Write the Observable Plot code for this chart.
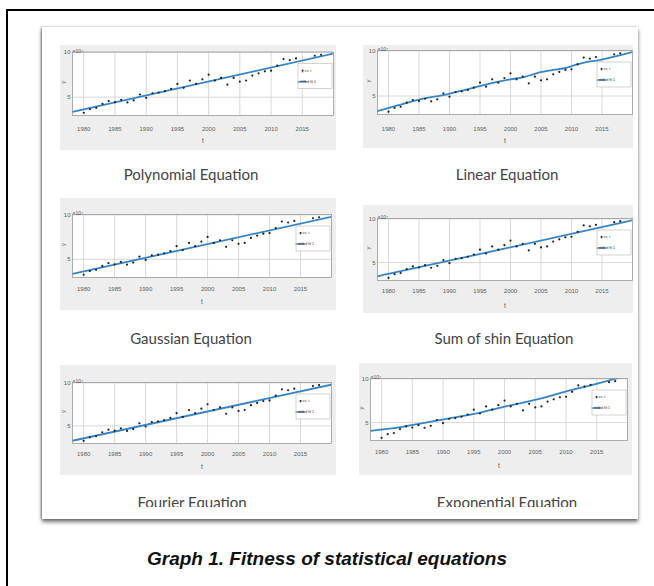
<!DOCTYPE html>
<html>
<head>
<meta charset="utf-8">
<script src="https://cdn.jsdelivr.net/npm/d3@7"></script>
<script src="https://cdn.jsdelivr.net/npm/@observablehq/plot@0.6"></script>
<style>
html,body{margin:0;padding:0;background:#fff;width:654px;height:586px;overflow:hidden;position:relative;}
#frame{position:absolute;left:6px;top:9px;width:720px;height:700px;border:2px solid #000;box-sizing:border-box;}
#panel{position:absolute;left:42px;top:27px;width:596px;height:492px;background:#fff;
  box-shadow:-1px 0 2px rgba(0,0,0,0.35),0 3px 4px rgba(0,0,0,0.55);}
#clip{position:absolute;left:0;top:0;width:596px;height:480px;overflow:hidden;}
.sub{position:absolute;}
.ttl{position:absolute;font-family:Lato,"Open Sans",sans-serif;font-size:15px;line-height:15px;color:#454545;transform:translateX(-50%);white-space:nowrap;}
#caption{position:absolute;left:0;width:654px;text-align:center;top:549px;line-height:19px;
  font-family:"Liberation Sans",Arial,sans-serif;font-weight:bold;font-style:italic;font-size:19px;color:#111;}
</style>
</head>
<body>
<div id="frame"></div>
<div id="panel"><div id="clip"></div></div>
<div id="caption"></div>
<script>
// ---- data ----
const years  = [1980,1981,1982,1983,1984,1985,1986,1987,1988,1989,1990,1991,1992,1993,1994,1995,1996,1997,1998,1999,2000,2001,2002,2003,2004,2005,2006,2007,2008,2009,2010,2011,2012,2013,2014,2017,2018];
const values = [3.26,3.67,3.81,4.26,4.56,4.44,4.70,4.41,4.63,5.30,4.93,5.44,5.52,5.67,5.93,6.48,6.04,6.85,6.48,7.00,7.52,6.85,7.15,6.41,7.15,6.74,6.85,7.41,7.67,7.89,7.96,8.52,9.26,9.15,9.33,9.63,9.74];

const xTicks = [1980,1985,1990,1995,2000,2005,2010,2015];
const yTicks = [5,10];
const xDomain = [1978.2,2020];
const yDomain = [2.95,10.05];

const polyFitT = [1978.2,2020];       const polyFitV = [3.35,9.88];
const linearFitT = [1978.2,1981.5,1985.2,1989.6,1992.9,1997.3,2000,2002.2,2004.4,2006.6,2009.3,2010.9,2012.6,2014.8,2017,2020];
const linearFitV = [3.33,3.96,4.63,5.19,5.74,6.48,6.85,7.1,7.55,7.85,8.15,8.5,8.78,9.02,9.37,9.89];
const gaussFitT = [1978.2,2020];      const gaussFitV = [3.35,9.8];
const sineFitT = [1978.2,1999,2020];  const sineFitV = [3.43,6.6,9.84];
const fourierFitT = [1978.2,2020];    const fourierFitV = [3.27,9.8];
const expFitT = [1978.2,1983.6,1990.1,1995.5,2000.4,2005.3,2010.2,2014.5,2019.9];
const expFitV = [4.05,4.55,5.38,6.06,6.89,7.65,8.6,9.36,10.38];

const titles = ["Polynomial Equation","Linear Equation","Gaussian Equation","Sum of shin Equation","Fourier Equation","Exponential Equation"];
const legendLabels = ["y vs. t","untitled fit 1"];
const xLabel = "t", yLabel = "y", exponent = "×10⁴";
const caption = "Graph 1. Fitness of statistical equations";

// ---- layout ----
const fits = [[polyFitT,polyFitV],[linearFitT,linearFitV],[gaussFitT,gaussFitV],[sineFitT,sineFitV],[fourierFitT,fourierFitV],[expFitT,expFitV]];
const layout = [
  {left:60, top:45, w:276,h:105,ml:12,mr:3,mt:6.5,mb:35,tp:12,xl:27},
  {left:363,top:45, w:270,h:103,ml:14,mr:1,mt:5, mb:34,tp:13,xl:28},
  {left:60, top:198,w:276,h:112,ml:12,mr:5,mt:16,mb:33,tp:10,xl:26},
  {left:363,top:205,w:270,h:108,ml:14,mr:1,mt:13,mb:33,tp:9, xl:27},
  {left:60, top:365,w:276,h:110,ml:12,mr:5,mt:17,mb:32,tp:9, xl:25},
  {left:359,top:363,w:273,h:112,ml:11,mr:5,mt:15,mb:35,tp:10,xl:27}
];
const titlePos = [{cx:191,top:166.7},{cx:507,top:166.7},{cx:191,top:331},{cx:504,top:331},{cx:192,top:494.7},{cx:507,top:494.7}];
const PX = 42, PY = 27;
const clip = document.getElementById("clip");
const pts = years.map((t,i)=>({t, v: values[i]}));

layout.forEach((L,k)=>{
  const fit = fits[k][0].map((t,i)=>({t, v: fits[k][1][i]}));
  const svg = Plot.plot({
    width:L.w, height:L.h, marginLeft:L.ml, marginRight:L.mr, marginTop:L.mt, marginBottom:L.mb,
    style:{background:"#eeeeee", fontFamily:"'Liberation Sans',Arial,sans-serif", fontSize:"6px", color:"#5f5f5f", overflow:"visible"},
    x:{domain:xDomain}, y:{domain:yDomain},
    marks:[
      Plot.frame({fill:"#fff"}),
      Plot.gridX(xTicks,{stroke:"#d8d8d8", strokeOpacity:1}),
      Plot.gridY(yTicks,{stroke:"#d8d8d8", strokeOpacity:1}),
      Plot.line(fit,{x:"t", y:"v", stroke:"#3585cc", strokeWidth:1.8, clip:true, curve:"monotone-x"}),
      Plot.dot(pts,{x:"t", y:"v", r:1.1, fill:"#222", stroke:null}),
      Plot.frame({stroke:"#9a9a9a", strokeWidth:0.8}),
      Plot.axisX(xTicks,{tickSize:0, tickPadding:L.tp - 0.5, label:null, tickFormat:d=>String(d)}),
      Plot.axisY(yTicks,{tickSize:0, tickPadding:2, label:null}),
      Plot.text([xLabel],{text:d=>d, frameAnchor:"bottom", dy:L.xl, fontSize:6.5, fill:"#555"}),
      Plot.text([yLabel],{text:d=>d, frameAnchor:"left", dx:-9, rotate:-90, fontSize:6, fill:"#555"}),
      Plot.text([exponent],{text:d=>d, frameAnchor:"top-left", dy:-3, textAnchor:"start", fontSize:5, fill:"#555"})
    ]
  });
  // legend
  const right = L.w - L.mr, x0 = right - 35, y0 = L.mt + 12;
  const g = d3.select(svg).append("g").attr("font-size","3.6px").attr("fill","#333");
  g.append("rect").attr("x",x0).attr("y",y0).attr("width",34).attr("height",25).attr("fill","#fff").attr("stroke","#b5b5b5").attr("stroke-width",0.6);
  g.append("circle").attr("cx",x0+4.5).attr("cy",y0+7).attr("r",0.9).attr("fill","#222");
  g.append("text").attr("x",x0+8.5).attr("y",y0+8.3).text(legendLabels[0]);
  g.append("line").attr("x1",x0+1.5).attr("x2",x0+8.5).attr("y1",y0+18).attr("y2",y0+18).attr("stroke","#3585cc").attr("stroke-width",1.5);
  g.append("text").attr("x",x0+8.8).attr("y",y0+19.3).text(legendLabels[1]);

  const div = document.createElement("div");
  div.className = "sub";
  div.style.left = (L.left-PX)+"px";
  div.style.top = (L.top-PY)+"px";
  div.appendChild(svg);
  clip.appendChild(div);

  const t = document.createElement("div");
  t.className = "ttl";
  t.style.left = (titlePos[k].cx-PX)+"px";
  t.style.top = (titlePos[k].top-PY)+"px";
  t.textContent = titles[k];
  clip.appendChild(t);
});
document.getElementById("caption").textContent = caption;
</script>
</body>
</html>
